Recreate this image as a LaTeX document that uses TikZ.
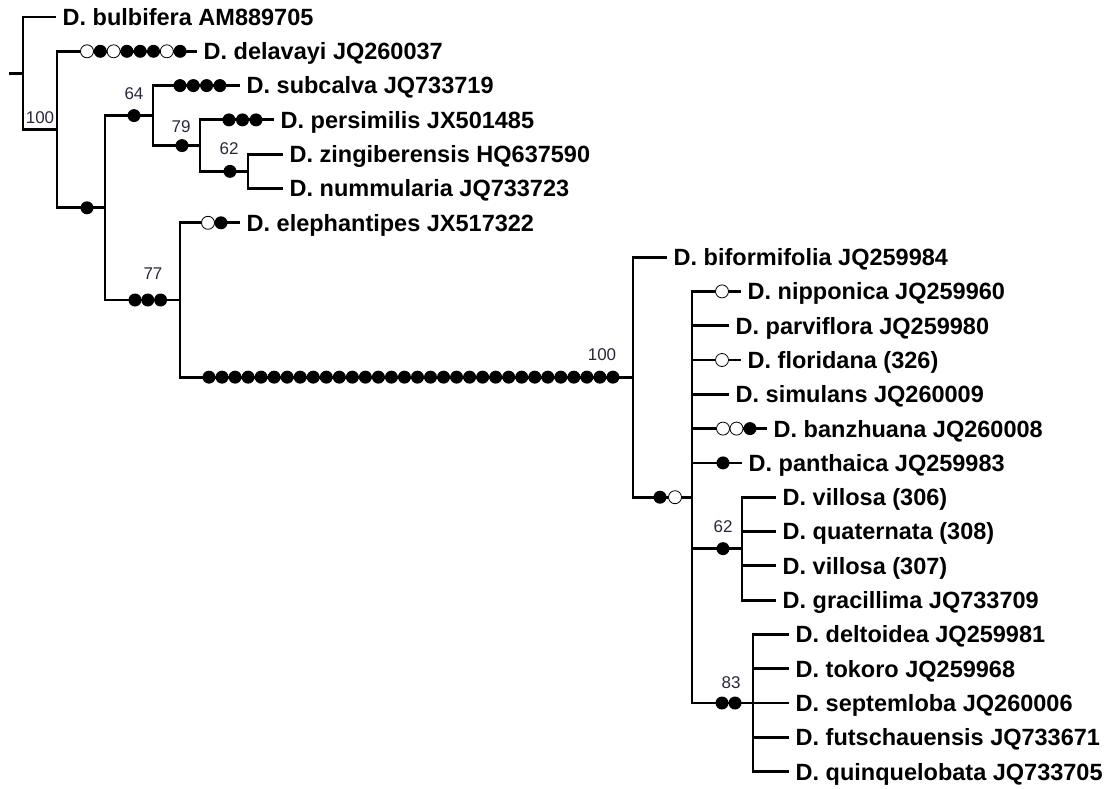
\documentclass[tikz,border=0pt]{standalone}
\usepackage{fontspec}
\setmainfont{Liberation Sans}
\definecolor{labc}{RGB}{40,40,60}
\begin{document}
\begin{tikzpicture}[x=1pt,y=-1pt,
  br/.style={line width=2.8pt},
  leaf/.style={anchor=west, inner xsep=6.5pt, inner ysep=0pt, text height=16.8pt, text depth=0pt,
    font=\fontsize{23.5}{28}\selectfont\bfseries},
  lab/.style={font=\fontsize{17}{20}\selectfont, text=labc, inner sep=0pt},
  fd/.style={fill=black},
  od/.style={fill=white, draw=black, line width=0.8pt}]
\useasboundingbox (0,0) rectangle (1116,789);
% internal nodes
\coordinate (stub) at (9,73.3);
\coordinate (R) at (23,73.3);
\coordinate (A) at (57,129.55);
\coordinate (B) at (105,207.8);
\coordinate (C) at (153,115.6);
\coordinate (Dn) at (200,145.6);
\coordinate (F) at (248,171.35);
\coordinate (E) at (180,300);
\coordinate (G) at (633,377.15);
\coordinate (H) at (692,497.2);
\coordinate (I) at (742,548.65);
\coordinate (J) at (753,703);
% leaves
\node[leaf] (t0) at (56,17) {D. bulbifera AM889705};
\node[leaf] (t1) at (197,51.3) {D. delavayi JQ260037};
\node[leaf] (t2) at (240,85.6) {D. subcalva JQ733719};
\node[leaf] (t3) at (274,119.9) {D. persimilis JX501485};
\node[leaf] (t4) at (283,154.2) {D. zingiberensis HQ637590};
\node[leaf] (t5) at (283,188.5) {D. nummularia JQ733723};
\node[leaf] (t6) at (240,222.8) {D. elephantipes JX517322};
\node[leaf] (t7) at (667,257.1) {D. biformifolia JQ259984};
\node[leaf] (t8) at (741,291.4) {D. nipponica JQ259960};
\node[leaf] (t9) at (729,325.7) {D. parviflora JQ259980};
\node[leaf] (t10) at (741,360) {D. floridana (326)};
\node[leaf] (t11) at (729,394.3) {D. simulans JQ260009};
\node[leaf] (t12) at (767,428.6) {D. banzhuana JQ260008};
\node[leaf] (t13) at (742,462.9) {D. panthaica JQ259983};
\node[leaf] (t14) at (776,497.2) {D. villosa (306)};
\node[leaf] (t15) at (776,531.5) {D. quaternata (308)};
\node[leaf] (t16) at (776,565.8) {D. villosa (307)};
\node[leaf] (t17) at (776,600.1) {D. gracillima JQ733709};
\node[leaf] (t18) at (789,634.4) {D. deltoidea JQ259981};
\node[leaf] (t19) at (789,668.7) {D. tokoro JQ259968};
\node[leaf] (t20) at (789,703) {D. septemloba JQ260006};
\node[leaf] (t21) at (789,737.3) {D. futschauensis JQ733671};
\node[leaf] (t22) at (789,771.6) {D. quinquelobata JQ733705};
% branches
\draw[br] (stub) -- (R);
\draw[br] (R) |- (t0.west) (R) |- (A);
\draw[br] (A) |- (t1.west) (A) |- (B);
\draw[br] (B) |- (C) (B) |- (E);
\draw[br] (C) |- (t2.west) (C) |- (Dn);
\draw[br] (Dn) |- (t3.west) (Dn) |- (F);
\draw[br] (F) |- (t4.west) (F) |- (t5.west);
\draw[br] (E) |- (t6.west) (E) |- (G);
\draw[br] (G) |- (t7.west) (G) |- (H);
\draw[br] (H) |- (t8.west) (H) |- (t9.west) (H) |- (t10.west) (H) |- (t11.west)
          (H) |- (t12.west) (H) |- (t13.west) (H) |- (I) (H) |- (J);
\draw[br] (I) |- (t14.west) (I) |- (t15.west) (I) |- (t16.west) (I) |- (t17.west);
\draw[br] (J) |- (t18.west) (J) |- (t19.west) (J) |- (t20.west) (J) |- (t21.west) (J) |- (t22.west);
% character-state dots
\foreach \x/\s in {87/od,100.3/fd,113.6/od,126.9/fd,140.2/fd,153.5/fd,166.8/od,180.1/fd}
  \path[\s] (\x,51.3) circle (6.5);
\foreach \x in {180,193.3,206.6,219.9} \path[fd] (\x,85.6) circle (6.5);
\foreach \x in {229,242.5,256} \path[fd] (\x,119.9) circle (6.5);
\path[fd] (134,115.6) circle (6.5);
\path[fd] (182,145.6) circle (6.5);
\path[fd] (230,171.35) circle (6.5);
\path[fd] (87,207.8) circle (6.5);
\path[od] (208,222.8) circle (6.5);
\path[fd] (221,222.8) circle (6.5);
\foreach \x in {135,147.8,160.6} \path[fd] (\x,300) circle (6.5);
\foreach \i in {0,...,31} \path[fd] (209+13.03*\i,377.15) circle (6.5);
\path[od] (722,291.4) circle (6.5);
\path[od] (722,360) circle (6.5);
\path[od] (723,428.6) circle (6.5);
\path[od] (736.5,428.6) circle (6.5);
\path[fd] (750,428.6) circle (6.5);
\path[fd] (723,462.9) circle (6.5);
\path[fd] (660,497.2) circle (6.5);
\path[od] (675,497.2) circle (6.5);
\path[fd] (723,548.65) circle (6.5);
\path[fd] (722,703) circle (6.5);
\path[fd] (735,703) circle (6.5);
% support values
\node[lab] (s1) at (40,118) {100};
\node[lab] (s2) at (134,94) {64};
\node[lab] (s3) at (181,127) {79};
\node[lab] (s4) at (229,149) {62};
\node[lab] (s5) at (153,274) {77};
\node[lab] (s6) at (602,355) {100};
\node[lab] (s7) at (723,527) {62};
\node[lab] (s8) at (731,683) {83};
\end{tikzpicture}
\end{document}
